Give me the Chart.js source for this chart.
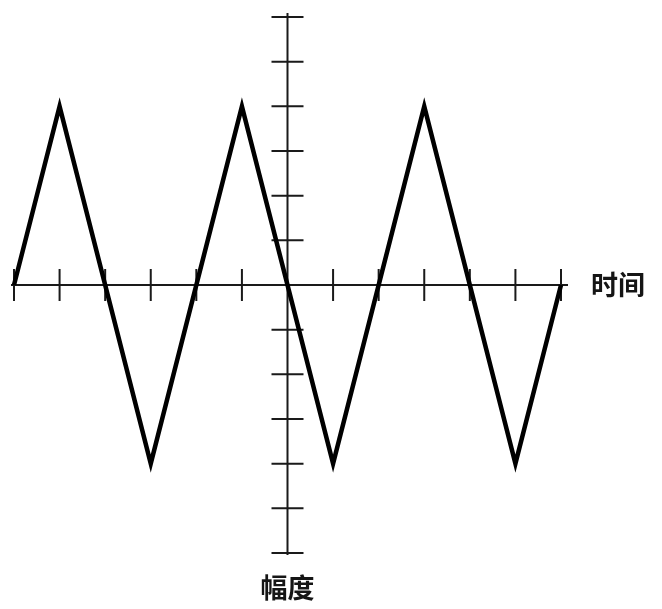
<!DOCTYPE html>
<html>
<head>
<meta charset="utf-8">
<script src="https://cdn.jsdelivr.net/npm/chart.js@4"></script>
<style>
html,body{margin:0;padding:0;background:#fff;}
#wrap{width:662px;height:609px;position:relative;}
</style>
</head>
<body>
<div id="wrap"><canvas id="c" width="662" height="609"></canvas></div>
<script>
const xValues = [-6, -5, -3, -1, 1, 3, 5, 6];
const yValues = [0, 4, -4, 4, -4, 4, -4, 0];
const xTicks = [-6, -5, -4, -3, -2, -1, 1, 2, 3, 4, 5, 6];
const yTicks = [-6, -5, -4, -3, -2, -1, 1, 2, 3, 4, 5, 6];
const xLabel = '时间';
const yLabel = '幅度';

const axesPlugin = {
  id: 'crossAxes',
  beforeDatasetsDraw(chart) {
    const ctx = chart.ctx;
    const xs = chart.scales.x, ys = chart.scales.y;
    const x0 = xs.getPixelForValue(0), y0 = ys.getPixelForValue(0);
    const xL = xs.getPixelForValue(-6), xR = xs.getPixelForValue(6);
    const yT = ys.getPixelForValue(6), yB = ys.getPixelForValue(-6);
    ctx.save();
    ctx.strokeStyle = '#1a1a1a';
    ctx.lineWidth = 2;
    ctx.beginPath();
    ctx.moveTo(xL - 3, y0); ctx.lineTo(xR + 7, y0);
    ctx.moveTo(x0, yT - 4); ctx.lineTo(x0, yB + 2);
    const t = 16;
    xTicks.forEach(v => {
      const p = xs.getPixelForValue(v);
      ctx.moveTo(p, y0 - t); ctx.lineTo(p, y0 + t);
    });
    yTicks.forEach(v => {
      const p = ys.getPixelForValue(v);
      ctx.moveTo(x0 - t, p); ctx.lineTo(x0 + t, p);
    });
    ctx.stroke();
    ctx.fillStyle = '#151515';
    ctx.font = 'bold 27px "Noto Sans CJK SC", sans-serif';
    ctx.textBaseline = 'middle';
    ctx.textAlign = 'left';
    ctx.fillText(xLabel, xR + 30, y0);
    ctx.textAlign = 'center';
    ctx.fillText(yLabel, x0, yB + 35);
    ctx.restore();
  }
};

new Chart(document.getElementById('c'), {
  type: 'line',
  data: {
    datasets: [{
      data: xValues.map((x, i) => ({x: x, y: yValues[i]})),
      borderColor: '#000',
      borderWidth: 4.5,
      pointRadius: 0,
      tension: 0,
      fill: false,
      clip: false,
      borderJoinStyle: 'miter'
    }]
  },
  options: {
    responsive: false,
    animation: false,
    layout: {padding: {left: 14, right: 101, top: 17, bottom: 56}},
    plugins: {legend: {display: false}, tooltip: {enabled: false}},
    scales: {
      x: {type: 'linear', min: -6, max: 6, display: false},
      y: {type: 'linear', min: -6, max: 6, display: false}
    }
  },
  plugins: [axesPlugin]
});
</script>
</body>
</html>
